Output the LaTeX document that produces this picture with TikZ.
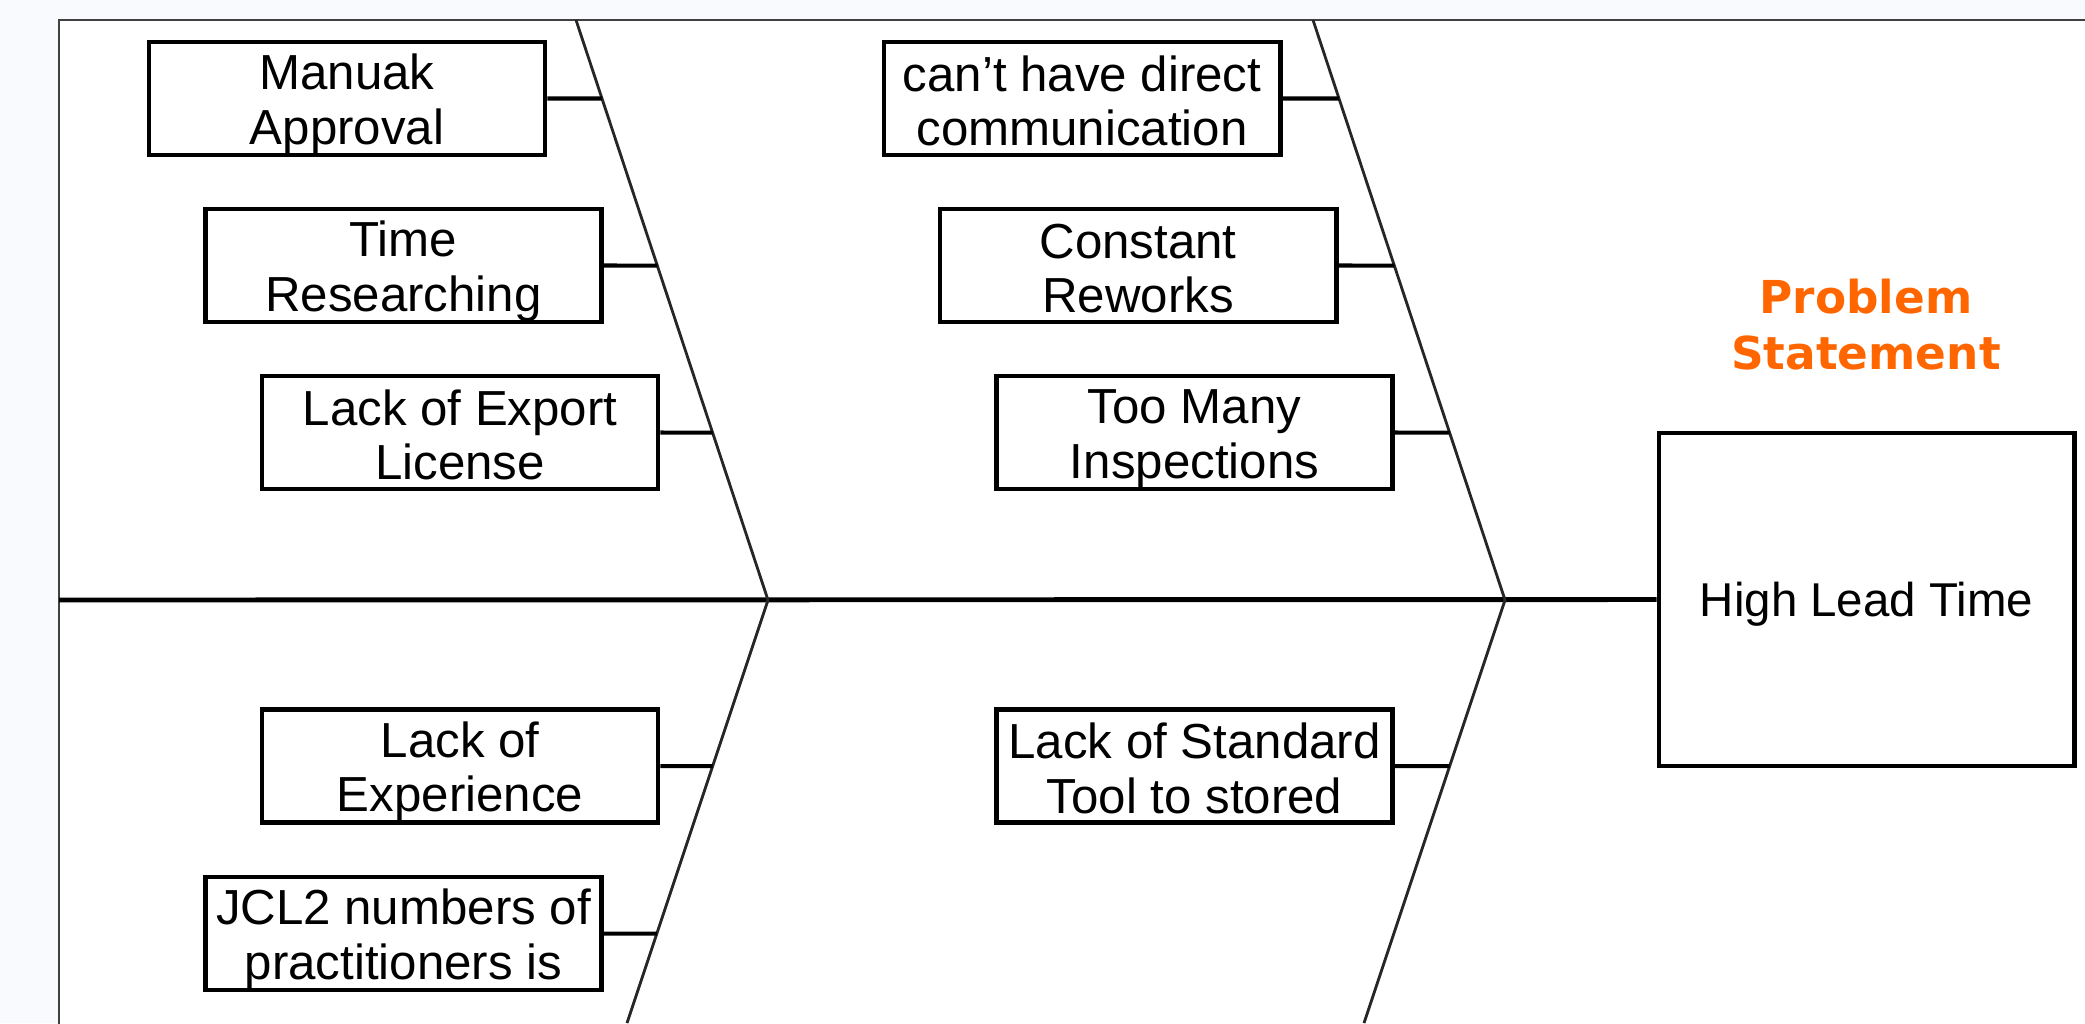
\documentclass[tikz,border=0pt]{standalone}
\usepackage{fontspec}
\setmainfont{Liberation Sans}
\newfontfamily\titlefont{DejaVu Sans}
\definecolor{probcolor}{RGB}{255,102,0}
\definecolor{pagebg}{RGB}{248,250,253}
% struts that set the text of a cause box a little lower
\newcommand{\tallstrut}{\rule{0pt}{0.47cm}}
\newcommand{\deepstrut}{\rule[-0.07cm]{0pt}{0.07cm}}
\begin{document}
\begin{tikzpicture}[
    x=0.01cm, y=-0.01cm,
    cause/.style={draw, line width=1.35pt, fill=white, minimum width=3.96cm, minimum height=1.13cm, inner sep=0pt, align=center, font=\fontsize{14}{15.6}\selectfont},
    effect/.style={draw, line width=1.35pt, fill=white, minimum width=4.15cm, minimum height=3.33cm, inner sep=0pt, text depth=0pt, font=\fontsize{13.5}{16}\selectfont},
    title/.style={text=probcolor, align=center, font=\titlefont\bfseries\fontsize{12.9}{15.9}\selectfont},
    bone/.style={line width=0.8pt, draw=black!85},
    twig/.style={line width=1.15pt},
    spine/.style={line width=1.4pt}
]
    % Page and frame
    \path[use as bounding box, fill=pagebg] (0,0) rectangle (2085,1023);
    \draw[fill=white, line width=0.6pt, draw=black!75] (59,20) rectangle (2100,1040);

    % Problem statement
    \node[title] (title) at (1866,325) {Problem\\Statement};
    \node[effect] (effect) at (1866.5,599.5) {High Lead Time};

    % Bones
    \coordinate (tail) at (59,600);
    \coordinate (top1) at (576,20);
    \coordinate (tip1) at (768,600);
    \coordinate (bot1) at (627,1023);
    \coordinate (top2) at (1313,20);
    \coordinate (tip2) at (1505,600);
    \coordinate (bot2) at (1364,1023);

    \draw[spine] (tail) -- (effect.west);
    \draw[bone] (top1) -- (tip1) -- (bot1);
    \draw[bone] (top2) -- (tip2) -- (bot2);

    % Causes - upper left
    \node[cause] (c1) at (347,98.5) {\tallstrut Manuak\\Approval\deepstrut};
    \node[cause] (c2) at (403.5,265.5) {\tallstrut Time\\Researching\deepstrut};
    \node[cause] (c3) at (460,432.5) {\tallstrut Lack of Export\\License\deepstrut};

    % Causes - upper middle
    \node[cause] (c4) at (1082,98.5) {\tallstrut can't have direct\\communication\deepstrut};
    \node[cause] (c5) at (1138,265.5) {\tallstrut Constant\\Reworks\deepstrut};
    \node[cause] (c6) at (1194.5,432.5) {\tallstrut Too Many\\Inspections\deepstrut};

    % Causes - lower
    \node[cause] (c7) at (460,766) {\tallstrut Lack of\\Experience\deepstrut};
    \node[cause] (c8) at (403.5,933.5) {\tallstrut JCL2 numbers of\\practitioners is\deepstrut};
    \node[cause] (c9) at (1194.5,766) {\tallstrut Lack of Standard\\Tool to stored\deepstrut};

    % Twigs to the bones
    \draw[twig] (c1.east) -- (intersection of top1--tip1 and c1.west--c1.east);
    \draw[twig] (c2.east) -- (intersection of top1--tip1 and c2.west--c2.east);
    \draw[twig] (c3.east) -- (intersection of top1--tip1 and c3.west--c3.east);
    \draw[twig] (c4.east) -- (intersection of top2--tip2 and c4.west--c4.east);
    \draw[twig] (c5.east) -- (intersection of top2--tip2 and c5.west--c5.east);
    \draw[twig] (c6.east) -- (intersection of top2--tip2 and c6.west--c6.east);
    \draw[twig] (c7.east) -- (intersection of tip1--bot1 and c7.west--c7.east);
    \draw[twig] (c8.east) -- (intersection of tip1--bot1 and c8.west--c8.east);
    \draw[twig] (c9.east) -- (intersection of tip2--bot2 and c9.west--c9.east);
\end{tikzpicture}
\end{document}
